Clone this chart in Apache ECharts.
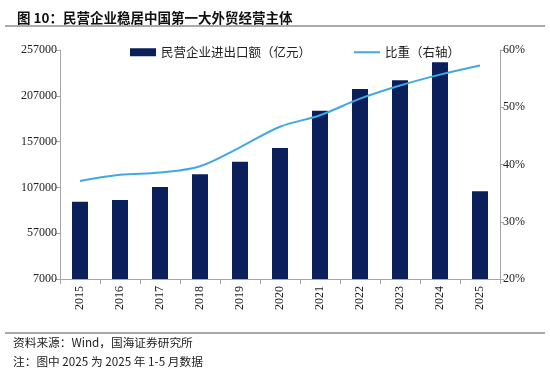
<!DOCTYPE html>
<html>
<head>
<meta charset="utf-8">
<script src="https://cdn.jsdelivr.net/npm/echarts@6/dist/echarts.min.js"></script>
<style>
html,body{margin:0;padding:0;background:#fff;}
#chart{width:550px;height:379px;}
</style>
</head>
<body>
<div id="chart"></div>
<script>
const categories = ['2015','2016','2017','2018','2019','2020','2021','2022','2023','2024','2025'];
const tradeValues = [91400, 93200, 107400, 121300, 135000, 150000, 190700, 214400, 223900, 243600, 102700];
const shareValues = [37.1, 38.2, 38.6, 39.7, 43.0, 46.6, 48.6, 51.5, 53.8, 55.7, 57.3];
const leftTicks = [7000, 57000, 107000, 157000, 207000, 257000];
const rightTicks = [20, 30, 40, 50, 60];

const chart = echarts.init(document.getElementById('chart'));
const serif = '"Liberation Serif", "Times New Roman", serif';
const cjk = '"Noto Sans CJK SC", sans-serif';
const axisColor = '#a6a6a6';

chart.setOption({
  animation: false,
  backgroundColor: '#fff',
  title: {
    text: '图 10：民营企业稳居中国第一大外贸经营主体',
    left: 12, top: 6,
    textStyle: {fontFamily: cjk, fontSize: 13.5, fontWeight: 'bold', color: '#111'}
  },
  graphic: [
    {type: 'line', shape: {x1: 5, y1: 26, x2: 545, y2: 26}, style: {stroke: '#555', lineWidth: 1}},
    {type: 'line', shape: {x1: 5, y1: 333, x2: 545, y2: 333}, style: {stroke: '#555', lineWidth: 1}},
    {type: 'text', left: 13, top: 337, style: {text: '资料来源：Wind，国海证券研究所', font: '11.7px ' + cjk, fill: '#222'}},
    {type: 'text', left: 13, top: 356, style: {text: '注：图中 2025 为 2025 年 1-5 月数据', font: '11.7px ' + cjk, fill: '#222'}}
  ],
  legend: {
    top: 41, left: 125,
    itemGap: 42,
    itemWidth: 26, itemHeight: 8,
    textStyle: {fontFamily: cjk, fontSize: 12.5, color: '#222'},
    data: [
      {name: '民营企业进出口额（亿元）', icon: 'rect'},
      {name: '比重（右轴）', itemStyle: {opacity: 0, borderWidth: 0}}
    ]
  },
  grid: {left: 60, right: 50, top: 50, bottom: 100},
  xAxis: {
    type: 'category',
    data: categories,
    boundaryGap: true,
    axisLine: {lineStyle: {color: axisColor}},
    axisTick: {show: true, length: 5, alignWithLabel: false, lineStyle: {color: axisColor}},
    axisLabel: {rotate: 90, fontFamily: serif, fontSize: 12, color: '#222', margin: 7}
  },
  yAxis: [
    {
      type: 'value', min: 7000, max: 257000,
      splitLine: {show: false},
      axisLine: {show: true, lineStyle: {color: axisColor}},
      axisTick: {show: true, length: 4, lineStyle: {color: axisColor}, customValues: leftTicks},
      axisLabel: {fontFamily: serif, fontSize: 12, color: '#222', margin: 3, customValues: leftTicks,
        formatter: function (v) { return String(v); }}
    },
    {
      type: 'value', min: 20, max: 60, interval: 10,
      position: 'right',
      splitLine: {show: false},
      axisLine: {show: true, lineStyle: {color: axisColor}},
      axisTick: {show: true, length: 4, lineStyle: {color: axisColor}, customValues: rightTicks},
      axisLabel: {fontFamily: serif, fontSize: 12, color: '#222', margin: 3, customValues: rightTicks,
        formatter: function (v) { return v + '%'; }}
    }
  ],
  series: [
    {
      name: '民营企业进出口额（亿元）',
      type: 'bar',
      data: tradeValues,
      barWidth: '40%',
      clip: true,
      itemStyle: {color: '#0b1f5b'}
    },
    {
      name: '比重（右轴）',
      type: 'line',
      yAxisIndex: 1,
      data: shareValues,
      smooth: 0.35,
      showSymbol: false,
      symbol: 'none',
      lineStyle: {color: '#41a8e6', width: 2},
      itemStyle: {color: '#41a8e6'}
    }
  ]
});
</script>
</body>
</html>
